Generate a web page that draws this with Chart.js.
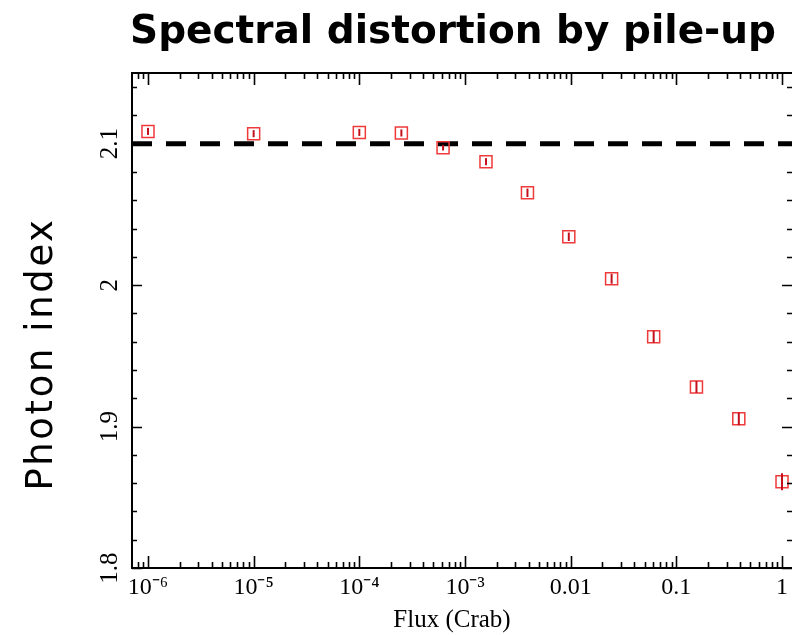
<!DOCTYPE html>
<html>
<head>
<meta charset="utf-8">
<script src="https://cdn.jsdelivr.net/npm/chart.js@4/dist/chart.umd.min.js"></script>
<style>
html, body { margin: 0; padding: 0; background: #fff; }
canvas { display: block; }
</style>
</head>
<body>
<canvas id="c" width="792" height="635"></canvas>
<script>
// values
var fluxCrab = [1e-6, 1e-5, 1e-4, 2.5e-4, 6.2e-4, 1.58e-3, 3.9e-3, 9.6e-3, 0.0244, 0.061, 0.155, 0.39, 1.0];
var photonIndex = [2.1087, 2.1071, 2.108, 2.1076, 2.0972, 2.0873, 2.0653, 2.0342, 2.0045, 1.9635, 1.928, 1.9055, 1.861];
var indexError = [0.0025, 0.0025, 0.0025, 0.0025, 0.002, 0.0025, 0.003, 0.003, 0.0035, 0.0042, 0.0042, 0.0045, 0.006];
var inputIndex = 2.1;

var xTickValues = [1e-6, 1e-5, 1e-4, 1e-3, 0.01, 0.1, 1];
var xTickLabels = ['10\u207B\u2076', '10\u207B\u2075', '10\u207B\u2074', '10\u207B\u00B3', '0.01', '0.1', '1'];
var yTickValues = [1.8, 1.9, 2, 2.1];
var yTickLabels = ['1.8', '1.9', '2', '2.1'];

var xMin = 7.06e-7, xMax = 1.243;
var yMin = 1.8, yMax = 2.15;

var points = fluxCrab.map(function (f, i) { return {x: f, y: photonIndex[i]}; });

// error bars, frame and inward ticks
var framePlugin = {
    id: 'frame',
    afterDatasetsDraw: function (chart) {
        var ctx = chart.ctx, a = chart.chartArea;
        var xs = chart.scales.x, ys = chart.scales.y;
        ctx.save();
        ctx.strokeStyle = '#c4101c';
        ctx.lineWidth = 2;
        for (var i = 0; i < fluxCrab.length; i++) {
            var px = xs.getPixelForValue(fluxCrab[i]);
            ctx.beginPath();
            ctx.moveTo(px, ys.getPixelForValue(photonIndex[i] - indexError[i]));
            ctx.lineTo(px, ys.getPixelForValue(photonIndex[i] + indexError[i]));
            ctx.stroke();
        }
        ctx.strokeStyle = '#000';
        ctx.lineWidth = 2;
        ctx.beginPath();
        ctx.moveTo(a.right, a.top);
        ctx.lineTo(a.left, a.top);
        ctx.lineTo(a.left, a.bottom);
        ctx.lineTo(a.right, a.bottom);
        ctx.stroke();

        ctx.lineWidth = 1.6;
        ctx.beginPath();
        for (var d = -7; d <= 0; d++) {
            for (var m = 1; m <= 9; m++) {
                var v = m * Math.pow(10, d);
                if (v < xMin || v > xMax) continue;
                var x = Math.round(xs.getPixelForValue(v)) + 0.5;
                var len = m === 1 ? 12 : 6;
                ctx.moveTo(x, a.bottom); ctx.lineTo(x, a.bottom - len);
                ctx.moveTo(x, a.top); ctx.lineTo(x, a.top + len);
            }
        }
        for (var k = 0; k <= 17; k++) {
            var yv = yMin + k * 0.02;
            if (yv > yMax + 1e-9) break;
            var y = Math.round(ys.getPixelForValue(yv)) + 0.5;
            var ylen = k % 5 === 0 ? 10 : 5;
            ctx.moveTo(a.left, y); ctx.lineTo(a.left + ylen, y);
            ctx.moveTo(a.right, y); ctx.lineTo(a.right - ylen, y);
        }
        ctx.stroke();
        ctx.restore();
    },
    afterDraw: function (chart) {
        var ctx = chart.ctx, ys = chart.scales.y;
        ctx.save();
        ctx.fillStyle = '#000';
        ctx.textAlign = 'center';
        ctx.textBaseline = 'alphabetic';
        ctx.font = 'bold 39px "DejaVu Sans"';
        ctx.fillText('Spectral distortion by pile-up', 453, 43);

        ctx.font = '25px "Liberation Serif"';
        ctx.fillText('Flux (Crab)', 452, 627);

        ctx.save();
        ctx.translate(52, 354);
        ctx.rotate(-Math.PI / 2);
        ctx.font = '37px "DejaVu Sans"';
        ctx.letterSpacing = '2.6px';
        ctx.fillText('Photon index', 0, 0);
        ctx.restore();

        ctx.font = '25px "Liberation Serif"';
        for (var i = 0; i < yTickValues.length; i++) {
            ctx.save();
            ctx.translate(117, ys.getPixelForValue(yTickValues[i]));
            ctx.rotate(-Math.PI / 2);
            ctx.fillText(yTickLabels[i], 0, 0);
            ctx.restore();
        }
        ctx.restore();
    }
};

new Chart(document.getElementById('c'), {
    type: 'scatter',
    data: {
        datasets: [{
            label: 'Photon index',
            data: points,
            pointStyle: 'rect',
            pointRadius: 8.5,
            pointHoverRadius: 8.5,
            pointBorderWidth: 1.5,
            pointBorderColor: '#ee3a3a',
            pointBackgroundColor: 'rgba(0,0,0,0)',
            showLine: false,
            clip: false
        }, {
            type: 'line',
            label: 'input',
            data: [{x: xMin, y: inputIndex}, {x: xMax, y: inputIndex}],
            borderColor: '#000',
            borderWidth: 5,
            borderDash: [20, 14],
            pointRadius: 0,
            fill: false
        }]
    },
    options: {
        responsive: false,
        animation: false,
        layout: {autoPadding: false, padding: {top: 73, left: 0, right: 0, bottom: 0}},
        plugins: {legend: {display: false}, title: {display: false}, tooltip: {enabled: false}},
        scales: {
            x: {
                type: 'logarithmic',
                min: xMin,
                max: xMax,
                grid: {display: false, drawTicks: false},
                border: {display: false},
                afterBuildTicks: function (scale) {
                    scale.ticks = xTickValues.map(function (v) { return {value: v}; });
                },
                afterFit: function (scale) {
                    scale.height = 67;
                    scale.paddingLeft = 0;
                    scale.paddingRight = 0;
                },
                ticks: {
                    autoSkip: false,
                    maxRotation: 0,
                    padding: 5,
                    color: '#000',
                    font: {family: '"Liberation Serif"', size: 24},
                    callback: function (value) {
                        var idx = xTickValues.indexOf(value);
                        return idx >= 0 ? xTickLabels[idx] : '';
                    }
                }
            },
            y: {
                type: 'linear',
                min: yMin,
                max: yMax,
                grid: {display: false, drawTicks: false},
                border: {display: false},
                ticks: {display: false},
                afterFit: function (scale) {
                    scale.width = 132;
                    scale.paddingTop = 0;
                    scale.paddingBottom = 0;
                }
            }
        }
    },
    plugins: [framePlugin]
});
</script>
</body>
</html>
